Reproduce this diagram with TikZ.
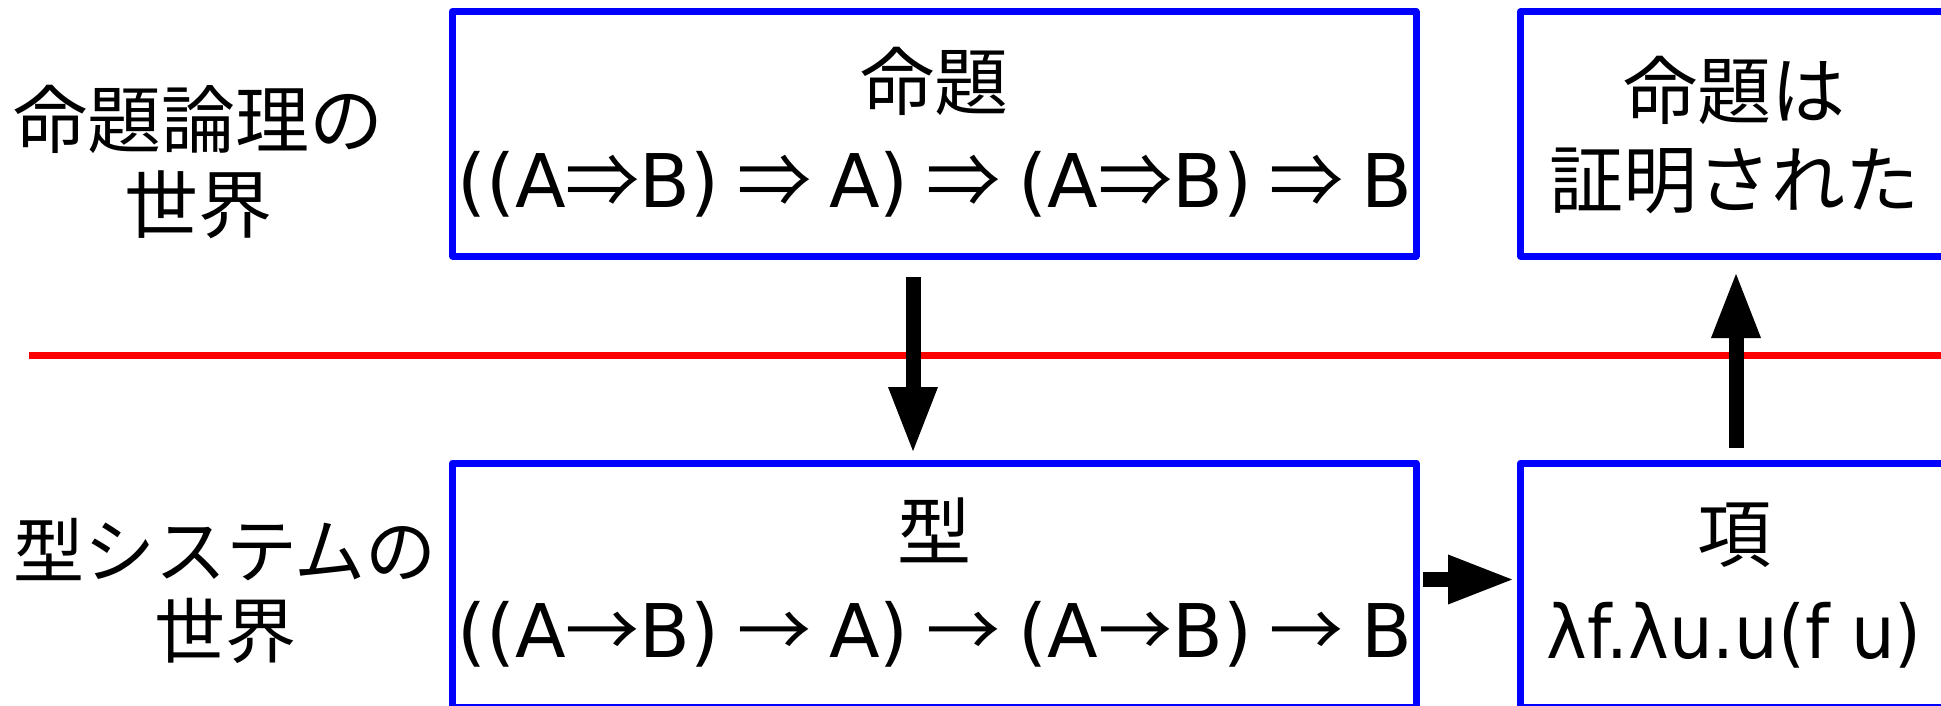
\documentclass[tikz,border=0pt]{standalone}
\usepackage{fontspec}
\setmainfont{DejaVu Sans}
\newfontfamily\jp{Noto Sans CJK JP}
\newcommand{\IMP}{{\jp ⇒}}
\newcommand{\ARR}{{\jp →}}
\newcommand{\GAP}{\hspace{18pt}}
\usetikzlibrary{arrows.meta}
\begin{document}
\begin{tikzpicture}[x=1pt,y=-1pt,
  box/.style={draw=blue, line width=7pt, line join=round, rectangle, inner sep=0pt, outer sep=0pt},
  txt/.style={anchor=base, inner sep=0pt, font=\fontsize{74pt}{85pt}\selectfont},
  jtxt/.style={txt, font=\fontsize{74pt}{85pt}\selectfont\jp},
  sjtxt/.style={txt, font=\fontsize{71pt}{85pt}\selectfont\jp},
  bigarrow/.style={line width=15pt, -{Triangle[length=67pt,width=45pt]}},
  redline/.style={draw=red, line width=7pt}
]
\useasboundingbox (0,0) rectangle (1941,706);
\clip (0,0) rectangle (1941,706);
\fill[white] (0,0) rectangle (1941,706);

% boxes
\node[box, minimum width=963.5pt, minimum height=244.3pt] (tl) at (934.25,133.85) {};
\node[box, minimum width=427.5pt, minimum height=244.3pt] (tr) at (1734.25,133.85) {};
\node[box, minimum width=963.5pt, minimum height=244pt] (bl) at (934.25,585) {};
\node[box, minimum width=427.5pt, minimum height=244pt] (br) at (1734.25,585) {};

% texts in boxes
\node[jtxt] (tlA) at (934,110) {命題};
\node[txt] (tlB) at (935,207) {((A\IMP B)\GAP\IMP\GAP A)\GAP\IMP\GAP(A\IMP B)\GAP\IMP\GAP B};
\node[jtxt] (trA) at (1734,119) {命題は};
\node[jtxt] (trB) at (1734,207) {証明された};
\node[jtxt] (blA) at (934,559) {型};
\node[txt] (blB) at (935,657) {((A\ARR B)\GAP\ARR\GAP A)\GAP\ARR\GAP(A\ARR B)\GAP\ARR\GAP B};
\node[jtxt] (brA) at (1734,561) {項};
\node[txt, transform shape, xscale=0.93] (brB) at (1734,658) {λf.λu.u(f u)};

% side labels
\node[jtxt] (la1) at (198,147) {命題論理の};
\node[jtxt] (la2) at (198,232) {世界};
\node[sjtxt] (lb1) at (225,577) {型システムの};
\node[sjtxt] (lb2) at (225,657) {世界};

% red separator
\coordinate (rl) at (29,355);
\coordinate (rr) at (1945,355);
\draw[redline] (rl) -- (rr);

% arrows
\coordinate (dx) at (913,0);
\coordinate (ux) at (1736,0);
\coordinate (ry) at (0,579.5);
\draw[bigarrow, shorten <=21pt, shorten >=9pt] (tl.south -| dx) -- (bl.north -| dx);
\draw[bigarrow, shorten <=15pt, shorten >=15pt] (br.north -| ux) -- (tr.south -| ux);
\draw[bigarrow, shorten <=7pt, shorten >=5.5pt] (bl.east |- ry) -- (br.west |- ry);
\end{tikzpicture}
\end{document}
